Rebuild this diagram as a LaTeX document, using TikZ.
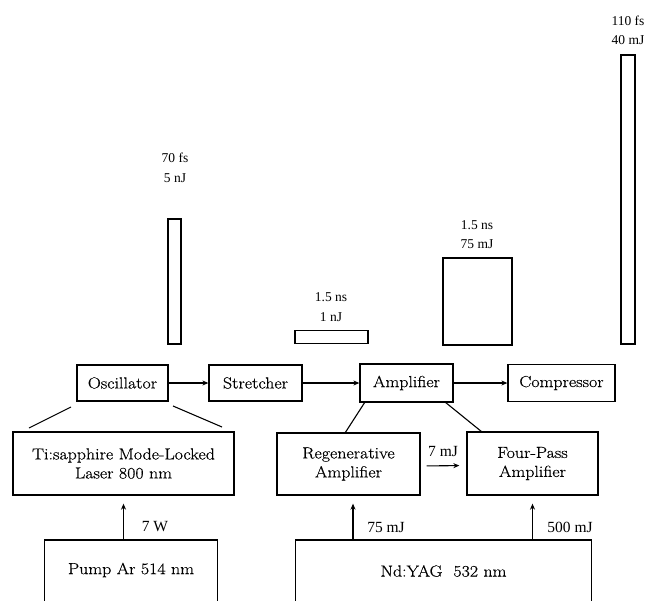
\documentclass[tikz,border=0pt]{standalone}
\usepackage{fontspec}
\newfontfamily\lblfont{Liberation Serif}
\newfontfamily\boxfont{Latin Modern Roman}[FakeStretch=1.12,FakeBold=0.5]
\usetikzlibrary{arrows.meta}
\begin{document}
\begin{tikzpicture}[x=1pt,y=-1pt,
 box/.style={draw,line width=1.3pt,inner sep=0pt,align=center,font=\boxfont\fontsize{16}{19}\selectfont},
 pulse/.style={draw,line width=1.1pt,inner sep=0pt},
 lbl/.style={inner sep=0pt,align=center,font=\lblfont\fontsize{13.5}{19.5}\selectfont},
 blbl/.style={inner sep=0pt,align=center,font=\lblfont\fontsize{15.5}{19.5}\selectfont},
 arr/.style={line width=1.1pt,-{Stealth[length=6pt,width=5pt]}},
 conn/.style={line width=1.1pt}]
\useasboundingbox (0,0) rectangle (647,601);
% main chain
\node[box,minimum width=91pt,minimum height=36pt] (osc) at (122.5,383) {Oscillator};
\node[box,minimum width=93pt,minimum height=36pt] (str) at (255.5,383) {Stretcher};
\node[box,minimum width=93pt,minimum height=38pt] (amp) at (406.5,383) {Amplifier};
\node[box,minimum width=107pt,minimum height=37pt] (comp) at (561.5,383) {Compressor};
\draw[arr] (osc) -- (str);
\draw[arr] (str) -- (amp);
\draw[arr] (amp) -- (comp);
% lower boxes
\node[box,minimum width=221pt,minimum height=63pt] (ti) at (123.5,463.5) {Ti:sapphire Mode-Locked\\Laser 800 nm};
\node[box,minimum width=143pt,minimum height=62pt] (regen) at (348.5,464) {Regenerative\\Amplifier};
\node[box,minimum width=131pt,minimum height=63pt] (four) at (532.5,463.5) {Four-Pass\\Amplifier};
% pump boxes (open at bottom)
\node[minimum width=172pt,minimum height=61pt,inner sep=0pt,anchor=north] (pump) at (131,540) {};
\node[inner sep=0pt,font=\boxfont\fontsize{16}{19}\selectfont] (pumptxt) at (131,570) {Pump Ar 514 nm};
\draw[line width=1.3pt] (pump.south west) -- (pump.north west) -- (pump.north east) -- (pump.south east);
\node[minimum width=295pt,minimum height=61pt,inner sep=0pt,anchor=north] (yag) at (443.5,540) {};
\node[inner sep=0pt,font=\boxfont\fontsize{16}{19}\selectfont] (yagtxt) at (443.5,571) {Nd:YAG\ \ 532 nm};
\draw[line width=1.3pt] (yag.south west) -- (yag.north west) -- (yag.north east) -- (yag.south east);
% pump arrows
\draw[arr,shorten >=8pt] (ti.south |- pump.north) -- (ti.south);
\draw[arr,shorten >=8pt] ([xshift=4.5pt]regen.south |- yag.north) -- ([xshift=4.5pt]regen.south);
\draw[arr,shorten >=8pt] (four.south |- yag.north) -- (four.south);
\node[blbl] (w7) at (155,527) {7 W};
\node[blbl] (mj75) at (386,527) {75 mJ};
\node[blbl] (mj500) at (570,527) {500 mJ};
% regen -> four
\draw[arr,shorten <=6pt,shorten >=7pt] ([yshift=-2pt]regen.east) -- ([yshift=-2pt]four.west);
\node[blbl] (mj7) at (443,451) {7 mJ};
% diagonal links
\coordinate (d1a) at (71,407); \coordinate (d1b) at (29,428);
\coordinate (d2a) at (173,406); \coordinate (d2b) at (222,427);
\coordinate (d3a) at (365,402); \coordinate (d3b) at (345,433);
\coordinate (d4a) at (445,402); \coordinate (d4b) at (482,432);
\draw[conn] (d1a) -- (d1b);
\draw[conn] (d2a) -- (d2b);
\draw[conn] (d3a) -- (d3b);
\draw[conn] (d4a) -- (d4b);
% pulses
\node[pulse,minimum width=13pt,minimum height=125pt] (p1) at (174.5,281.5) {};
\node[lbl] (l1) at (175,168) {70 fs\\5 nJ};
\node[pulse,minimum width=73pt,minimum height=13pt] (p2) at (331.5,337) {};
\node[lbl] (l2) at (331,307) {1.5 ns\\1 nJ};
\node[pulse,minimum width=69pt,minimum height=87pt] (p3) at (477.5,301.5) {};
\node[lbl] (l3) at (477,234.5) {1.5 ns\\75 mJ};
\node[pulse,minimum width=14pt,minimum height=289pt] (p4) at (628,199.5) {};
\node[lbl] (l4) at (628,30.5) {110 fs\\40 mJ};
\end{tikzpicture}
\end{document}
